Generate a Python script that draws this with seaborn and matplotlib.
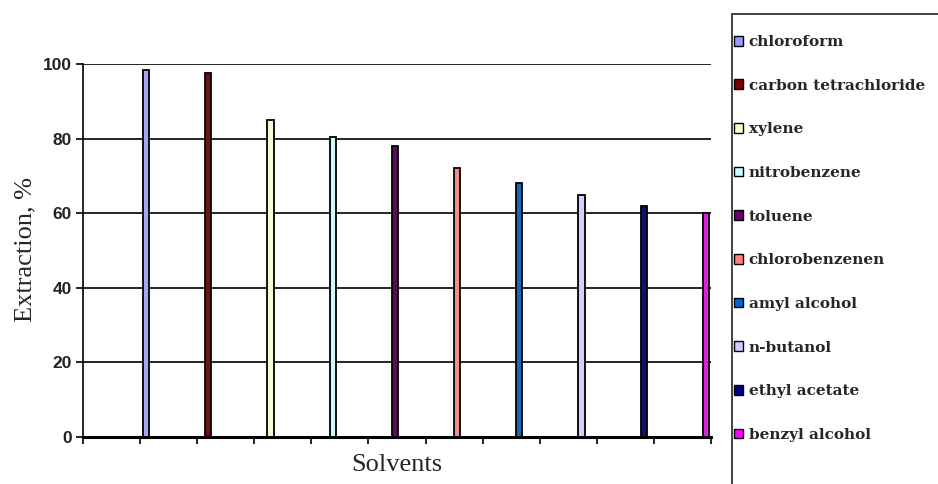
import matplotlib
matplotlib.use("Agg")
import matplotlib.pyplot as plt
from matplotlib.patches import Patch, Rectangle
import numpy as np
import pandas as pd
import seaborn as sns

solvents = ["chloroform", "carbon tetrachloride", "xylene", "nitrobenzene",
            "toluene", "chlorobenzenen", "amyl alcohol", "n-butanol",
            "ethyl acetate", "benzyl alcohol"]
extraction = [98.5, 97.5, 85, 80.5, 78, 72, 68, 65, 62, 60]
colors = ["#9999FF", "#800000", "#FFFFCC", "#CCFFFF", "#660066",
          "#FF8080", "#0066CC", "#CCCCFF", "#000080", "#FF00FF"]
y_ticks = [0, 20, 40, 60, 80, 100]

df = pd.DataFrame({"solvent": solvents, "extraction": extraction})

sns.set_theme(style="white")
fig = plt.figure(figsize=(9.38, 4.84), dpi=100)
W, H = 938, 484
ax = fig.add_axes([83 / W, (H - 437) / H, (711 - 83) / W, (437 - 64) / H])

sns.barplot(data=df, x="solvent", y="extraction", hue="solvent",
            order=solvents, hue_order=solvents, palette=colors,
            width=0.1, edgecolor="black", linewidth=1.3, legend=False, ax=ax)

# horizontal gridlines
for v in y_ticks[1:]:
    ax.axhline(v, color="black", lw=1.2, zorder=0)

ax.set_ylim(0, 100)
ax.set_xlim(-1.013, 9.08)
ax.set_yticks(y_ticks)
ax.set_yticklabels([str(v) for v in y_ticks], fontsize=12.5, fontweight="bold",
                   family="Liberation Sans", color="#222222")
tick_pos = -1.013 + np.arange(12) * (10.093 / 11)
ax.set_xticks(tick_pos)
ax.set_xticklabels([])
ax.tick_params(axis="both", which="both", direction="out", length=5,
               width=1.2, color="black", bottom=True, left=True, pad=3)

for s in ["top", "right"]:
    ax.spines[s].set_visible(False)
ax.spines["left"].set_color("black")
ax.spines["left"].set_linewidth(1.2)
ax.spines["bottom"].set_color("black")
ax.spines["bottom"].set_linewidth(2.2)

ax.set_xlabel("")
ax.set_ylabel("")
fig.text(25 / W, 1 - 250 / H, "Extraction, %", rotation=90, ha="center",
         va="center", fontsize=19, family="Liberation Serif")
fig.text(397 / W, 1 - 465 / H, "Solvents", ha="center", va="center",
         fontsize=19, family="Liberation Serif")

# legend box
fig.patches.append(Rectangle((732 / W, -0.02), (W - 731) / W, 1.02 - 14 / H,
                             transform=fig.transFigure, fill=False,
                             edgecolor="#333333", lw=1.3))
handles = [Patch(facecolor=c, edgecolor="black", lw=1.0) for c in colors]
fig.legend(handles, solvents, loc="upper left",
           bbox_to_anchor=(731 / W, 1 - 32 / H), frameon=False,
           prop={"family": "DejaVu Serif", "weight": "bold", "size": 11},
           handlelength=0.6, handleheight=0.6, handletextpad=0.35,
           labelspacing=1.94, borderaxespad=0, borderpad=0.2)

fig.savefig("out.png", dpi=100)
